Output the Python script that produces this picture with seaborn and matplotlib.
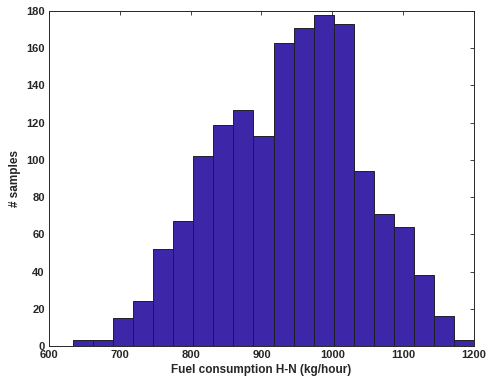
import numpy as np
import matplotlib
matplotlib.use("Agg")
import matplotlib.pyplot as plt
import seaborn as sns

# histogram bin edges (kg/hour) and counts
bin_edges = [634, 662.3, 690.6, 718.9, 747.2, 775.5, 803.8, 832.1, 860.4, 888.7,
             917, 945.3, 973.6, 1001.9, 1030.2, 1058.5, 1086.8, 1115.1, 1143.4,
             1171.7, 1200]
counts = [3, 3, 15, 24, 52, 67, 102, 119, 127, 113,
          163, 171, 178, 173, 94, 71, 64, 38, 16, 3]
x_ticks = [600, 700, 800, 900, 1000, 1100, 1200]
y_ticks = [0, 20, 40, 60, 80, 100, 120, 140, 160, 180]

sns.set_style("white")
plt.rcParams['font.family'] = ['Liberation Sans', 'DejaVu Sans']
plt.rcParams['font.weight'] = 'bold'

edges = np.array(bin_edges)
centers = (edges[:-1] + edges[1:]) / 2

fig = plt.figure(figsize=(4.88, 3.86), dpi=100)
ax = fig.add_axes([0.1004, 0.1036, 0.8709, 0.8679])

sns.histplot(x=centers, weights=counts, bins=bin_edges, ax=ax,
             color="#3E26A8", alpha=1, edgecolor="#1f1f2a", linewidth=0.7)

ax.set_xlim(600, 1200)
ax.set_ylim(0, 180)
ax.set_xticks(x_ticks)
ax.set_yticks(y_ticks)
ax.tick_params(direction='in', top=True, right=True, length=3, width=0.6,
               labelsize=8, colors='#262626', pad=3)
for lab in ax.get_xticklabels() + ax.get_yticklabels():
    lab.set_fontweight('bold')
for s in ax.spines.values():
    s.set_color('#262626')
    s.set_linewidth(0.7)

ax.set_xlabel("Fuel consumption H-N (kg/hour)", fontsize=8.5, fontweight='bold',
              color='#262626', labelpad=3)
ax.set_ylabel("# samples", fontsize=8.5, fontweight='bold', color='#262626', labelpad=4)

fig.savefig("out.png", dpi=100)
